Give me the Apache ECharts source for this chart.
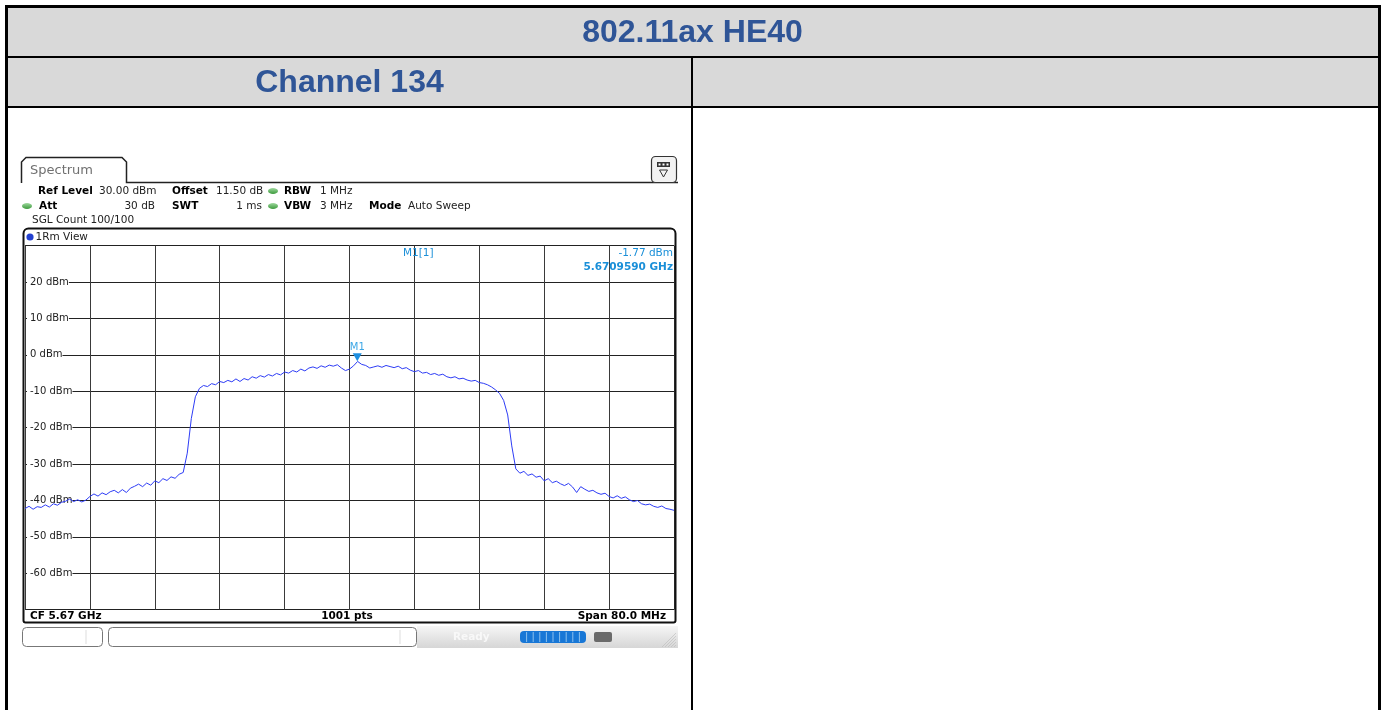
<!DOCTYPE html>
<html>
<head>
<meta charset="utf-8">
<script src="https://cdn.jsdelivr.net/npm/echarts@6/dist/echarts.min.js"></script>
<style>
html,body{margin:0;padding:0;background:#fff;}
#chart{width:1386px;height:710px;}
</style>
</head>
<body>
<div id="chart"></div>
<script>
// ---------- data ----------
const tableTitle = '802.11ax HE40';
const columnTitles = ['Channel 134', ''];
const startFreqMHz = 5630;      // CF 5.67 GHz - span/2
const spanMHz = 80;
const stepMHz = 0.5;
const xTickMHz = 8;
const yTicks = [30, 20, 10, 0, -10, -20, -30, -40, -50, -60, -70];
// trace level (dBm) every 0.5 MHz from 5630 MHz to 5710 MHz
const trace = [
 -42.2,-41.6,-42.4,-41.7,-41.9,-41.2,-41.8,-40.9,-41.3,-40.5,
 -40.2,-39.6,-40.3,-39.8,-40.4,-39.9,-38.9,-38.2,-38.8,-37.9,
 -38.4,-37.6,-37.2,-37.9,-37.0,-37.8,-36.6,-36.1,-35.5,-36.2,
 -35.2,-35.8,-34.6,-35.1,-34.0,-34.5,-33.5,-33.9,-32.8,-32.3,
 -27.0,-17.5,-11.5,-9.2,-8.4,-8.7,-7.9,-8.2,-7.3,-7.6,
 -7.0,-7.4,-6.6,-7.3,-6.5,-6.9,-6.0,-6.4,-5.7,-6.1,
 -5.4,-5.8,-5.1,-5.5,-4.7,-5.0,-4.3,-4.7,-3.9,-4.4,
 -3.6,-3.3,-3.7,-3.0,-3.4,-2.8,-3.1,-2.7,-3.6,-4.3,
 -3.9,-3.0,-1.8,-2.6,-2.9,-3.6,-3.3,-3.0,-3.4,-2.9,
 -3.2,-3.5,-3.1,-3.8,-3.5,-4.2,-4.6,-4.3,-5.0,-4.8,
 -5.4,-5.1,-5.6,-5.3,-6.0,-6.3,-6.0,-6.6,-6.4,-6.9,
 -7.2,-7.0,-7.6,-7.8,-8.2,-8.8,-9.6,-10.6,-12.5,-16.5,
 -25.0,-31.3,-32.5,-32.0,-33.1,-32.7,-33.6,-33.3,-34.6,-34.0,
 -35.1,-34.7,-35.4,-35.9,-35.3,-36.3,-37.8,-36.2,-36.9,-37.5,
 -37.2,-37.9,-38.3,-38.0,-38.9,-39.3,-38.7,-39.4,-39.0,-39.8,
 -40.3,-40.0,-40.9,-41.2,-41.0,-41.6,-41.9,-41.5,-42.2,-42.4,
 -42.7
];
const marker = { name: 'M1', freqGHz: 5.6709590, level: -1.77 };
const sglCount = 'SGL Count 100/100';
const footer = ['CF 5.67 GHz', '1001 pts', 'Span 80.0 MHz'];

// ---------- chart ----------
const chart = echarts.init(document.getElementById('chart'), null, { renderer: 'canvas' });
const seriesData = trace.map((v, i) => [i * stepMHz, v]);
const markerX = marker.freqGHz * 1000 - startFreqMHz;

const F = '"DejaVu Sans", Verdana, sans-serif';
const TF = '"Liberation Sans", Arial, sans-serif';
const g = [];
function txt(text, x, y, font, fill, align, z) {
  g.push({ type: 'text', z: z || 10, style: { text: text, x: x, y: y, font: font, fill: fill || '#000', align: align || 'left', verticalAlign: 'middle' } });
}
function line(x1, y1, x2, y2, w, c, z) {
  g.push({ type: 'line', z: z || 5, shape: { x1: x1, y1: y1, x2: x2, y2: y2 }, style: { stroke: c || '#000', lineWidth: w || 1 } });
}
// table
g.push({ type: 'rect', z: 1, shape: { x: 7, y: 7, width: 1372, height: 100 }, style: { fill: '#d9d9d9' } });
g.push({ type: 'rect', z: 6, shape: { x: 6.5, y: 6.5, width: 1373, height: 740 }, style: { fill: 'none', stroke: '#000', lineWidth: 3 } });
line(7, 57, 1379, 57, 2, '#000', 6);
line(7, 107, 1379, 107, 2, '#000', 6);
line(692, 57, 692, 712, 2, '#000', 6);
txt(tableTitle, 692.5, 33, 'bold 32px ' + TF, '#2f5597', 'center');
txt(columnTitles[0], 349.5, 83, 'bold 32px ' + TF, '#2f5597', 'center');
txt(columnTitles[1], 1035, 83, 'bold 32px ' + TF, '#2f5597', 'center');

// spectrum tab
g.push({ type: 'polyline', z: 5, shape: { points: [[21.5, 183], [21.5, 162], [26, 157.5], [122, 157.5], [126.5, 162], [126.5, 182.5], [678, 182.5]] }, style: { fill: 'none', stroke: '#222', lineWidth: 1.5 } });
txt('Spectrum', 30, 171, '13px ' + F, '#707070');
// icon
g.push({ type: 'rect', z: 5, shape: { x: 651.5, y: 156.5, width: 25, height: 26, r: 4 }, style: { fill: '#f2f2f2', stroke: '#333', lineWidth: 1.2 } });
g.push({ type: 'rect', z: 6, shape: { x: 657, y: 162, width: 13, height: 5 }, style: { fill: '#333' } });
for (let k = 0; k < 3; k++) g.push({ type: 'rect', z: 7, shape: { x: 658.5 + k * 4, y: 163.5, width: 2, height: 2 }, style: { fill: '#fff' } });
g.push({ type: 'polygon', z: 6, shape: { points: [[659.5, 170], [667.5, 170], [663.5, 177]] }, style: { fill: 'none', stroke: '#333', lineWidth: 1 } });

// settings
const b = 'bold 10.5px ' + F, r = '10.5px ' + F;
txt('Ref Level', 38, 191, b); txt('30.00 dBm', 99, 191, r, '#222');
txt('Offset', 172, 191, b); txt('11.50 dB', 216, 191, r, '#222');
txt('RBW', 284, 191, b); txt('1 MHz', 320, 191, r, '#222');
txt('Att', 39, 206, b); txt('30 dB', 155, 206, r, '#222', 'right');
txt('SWT', 172, 206, b); txt('1 ms', 262, 206, r, '#222', 'right');
txt('VBW', 284, 206, b); txt('3 MHz', 320, 206, r, '#222');
txt('Mode', 369, 206, b); txt('Auto Sweep', 408, 206, r, '#222');
txt(sglCount, 32, 220.5, r, '#222');
[[273, 191], [27, 206], [273, 206]].forEach(function (p) {
  g.push({ type: 'ellipse', z: 6, shape: { cx: p[0], cy: p[1], rx: 5, ry: 3 }, style: { fill: new echarts.graphic.LinearGradient(0, 0, 0, 1, [{ offset: 0, color: '#9ed89e' }, { offset: 1, color: '#3c9a3c' }]) } });
});

// window frame
g.push({ type: 'rect', z: 7, shape: { x: 23.5, y: 228.5, width: 652, height: 394, r: [5, 5, 2, 2] }, style: { fill: 'none', stroke: '#111', lineWidth: 2 } });
g.push({ type: 'circle', z: 8, shape: { cx: 30, cy: 237, r: 3.6 }, style: { fill: '#2340d0' } });
txt('1Rm View', 35.5, 237, r, '#222');
// marker readout
txt(marker.name + '[1]', 403, 253, r, '#1a8fd8');
txt(marker.level.toFixed(2) + ' dBm', 673, 253, r, '#1a8fd8', 'right');
txt(marker.freqGHz.toFixed(7) + ' GHz', 673, 267.5, 'bold 10.5px ' + F, '#1a8fd8', 'right');
// footer
txt(footer[0], 30, 616, b);
txt(footer[1], 347, 616, b, '#000', 'center');
txt(footer[2], 666, 616, b, '#000', 'right');

// status bar
g.push({ type: 'rect', z: 4, shape: { x: 417, y: 626, width: 261, height: 22 }, style: { fill: new echarts.graphic.LinearGradient(0, 0, 0, 1, [{ offset: 0, color: '#f6f6f6' }, { offset: 1, color: '#d6d6d6' }]) } });
g.push({ type: 'rect', z: 5, shape: { x: 22.5, y: 627.5, width: 80, height: 19, r: 4 }, style: { fill: '#fff', stroke: '#777', lineWidth: 1 } });
line(86, 630, 86, 644, 1, '#ddd', 6);
g.push({ type: 'rect', z: 5, shape: { x: 108.5, y: 627.5, width: 308, height: 19, r: 4 }, style: { fill: '#fff', stroke: '#777', lineWidth: 1 } });
line(400, 630, 400, 644, 1, '#ddd', 6);
txt('Ready', 453, 637, 'bold 10.5px ' + F, '#f8f8f8');
g.push({ type: 'rect', z: 5, shape: { x: 520, y: 631, width: 66, height: 12, r: 4 }, style: { fill: '#1877d6' } });
for (let k = 1; k < 10; k++) line(520 + k * 6.6, 632, 520 + k * 6.6, 642, 1, '#8cc0ee', 6);
g.push({ type: 'rect', z: 5, shape: { x: 594, y: 632, width: 18, height: 10, r: 2 }, style: { fill: '#6a6a6a' } });
for (let k = 0; k < 5; k++) line(662 + k * 3, 647, 676, 633 + k * 3, 0.6, '#bbb', 6);

const option = {
  animation: false,
  backgroundColor: '#fff',
  grid: { left: 25, top: 245.7, width: 649, height: 364, containLabel: false },
  xAxis: {
    type: 'value', min: 0, max: spanMHz, interval: xTickMHz,
    axisLine: { show: false }, axisTick: { show: false }, axisLabel: { show: false },
    splitLine: { show: true, lineStyle: { color: '#3a3a3a', width: 1 } }
  },
  yAxis: [{
    type: 'value', min: yTicks[yTicks.length - 1], max: yTicks[0], interval: 10,
    axisLine: { show: false }, axisTick: { show: false }, axisLabel: { show: false },
    splitLine: { show: true, lineStyle: { color: '#222', width: 1 } }, z: 0
  }, {
    type: 'value', min: yTicks[yTicks.length - 1], max: yTicks[0], interval: 10, position: 'left',
    axisLine: { show: false }, axisTick: { show: false }, splitLine: { show: false },
    axisLabel: {
      inside: true, margin: 2, showMinLabel: false, showMaxLabel: false,
      formatter: function (v) { return v + ' dBm'; },
      color: '#222', fontSize: 10, fontFamily: 'DejaVu Sans',
      backgroundColor: '#fff', padding: [1, 0, 1, 3]
    }, z: 1
  }],
  series: [{
    type: 'line', data: seriesData, showSymbol: false, symbol: 'none', z: 3,
    lineStyle: { color: '#2d3cf6', width: 1 },
    markPoint: {
      symbol: 'triangle', symbolRotate: 180, symbolSize: [9, 8], symbolOffset: [0, -4],
      itemStyle: { color: '#1e8fe0' },
      label: { show: true, formatter: marker.name, position: 'top', distance: 1, color: '#3aa6e6', fontSize: 10, fontFamily: 'DejaVu Sans' },
      data: [{ coord: [markerX, marker.level] }]
    }
  }],
  graphic: { elements: g }
};
chart.setOption(option);
</script>
</body>
</html>
